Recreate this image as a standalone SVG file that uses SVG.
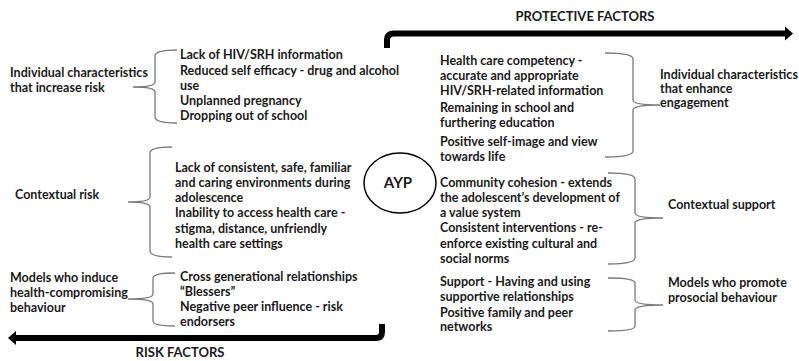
<svg xmlns="http://www.w3.org/2000/svg" width="799" height="361" viewBox="0 0 799 361">
<style>
text{font-family:Lato,"Liberation Sans",sans-serif;font-weight:bold;font-size:12.5px;fill:#1a1a1a}
.title{font-size:13px;text-anchor:middle}
.brace{fill:none;stroke:#7a7a7a;stroke-width:1.3}
.arrow{fill:none;stroke:#000;stroke-width:6;stroke-linejoin:round}
</style>
<rect width="799" height="361" fill="#fff"/>
<g id="connectors">
<path class="arrow" d="M387 48 L387 40 Q387 33.5 394 33.5 L786 33.5"/>
<polygon points="785,26.5 793,33.5 785,40.5" fill="#000"/>
<path class="arrow" d="M382 324 L382 332 Q382 338 376 338 L15 338"/>
<polygon points="16,331 8,338 16,345" fill="#000"/>
<path class="brace" d="M177 50 Q155 50 155 56 L155 82 Q155 87 133 87 Q155 87 155 92 L155 117 Q155 123 177 123"/>
<path class="brace" d="M172 147 Q150 147 150 153 L150 197 Q150 202 128 202 Q150 202 150 207 L150 251 Q150 257 172 257"/>
<path class="brace" d="M175 273 Q153 273 153 278 L153 294 Q153 299 128 299 Q153 299 153 304 L153 321 Q153 326 175 326"/>
<path class="brace" d="M605 53 Q633 53 633 59 L633 100 Q633 105 660 105 Q633 105 633 110 L633 151 Q633 157 605 157"/>
<path class="brace" d="M608 173 Q635 173 635 179 L635 213 Q635 218 663 218 Q635 218 635 223 L635 258 Q635 264 608 264"/>
<path class="brace" d="M608 278 Q635 278 635 283 L635 300 Q635 305 663 305 Q635 305 635 310 L635 326 Q635 331 608 331"/>
</g>
<g id="title-protective"><text class="title" x="585" y="21">PROTECTIVE FACTORS</text></g>
<g id="title-risk"><text class="title" x="180" y="357">RISK FACTORS</text></g>
<g id="ayp">
<ellipse cx="400" cy="183" rx="36" ry="30" fill="none" stroke="#000" stroke-width="1.5"/>
<text x="398" y="188" text-anchor="middle" style="font-size:15px">AYP</text>
</g>
<g id="label-individual-risk">
<text x="10" y="77">Individual characteristics</text>
<text x="10" y="92">that increase risk</text>
</g>
<g id="list-individual-risk">
<text x="180" y="59">Lack of HIV/SRH information</text>
<text x="180" y="75">Reduced self efficacy - drug and alcohol</text>
<text x="180" y="90">use</text>
<text x="180" y="105">Unplanned pregnancy</text>
<text x="180" y="120">Dropping out of school</text>
</g>
<g id="label-contextual-risk"><text x="15" y="199">Contextual risk</text></g>
<g id="list-contextual-risk">
<text x="175" y="172">Lack of consistent, safe, familiar</text>
<text x="175" y="187">and caring environments during</text>
<text x="175" y="202">adolescence</text>
<text x="175" y="217">Inability to access health care  -</text>
<text x="175" y="233">stigma, distance, unfriendly</text>
<text x="175" y="248">health care settings</text>
</g>
<g id="label-models-risk">
<text x="10" y="282">Models who induce</text>
<text x="10" y="297">health-compromising</text>
<text x="10" y="312">behaviour</text>
</g>
<g id="list-models-risk">
<text x="180" y="281">Cross generational relationships</text>
<text x="180" y="296">“Blessers”</text>
<text x="180" y="311">Negative peer influence - risk</text>
<text x="180" y="326">endorsers</text>
</g>
<g id="list-individual-protective">
<text x="440" y="65">Health care competency -</text>
<text x="440" y="80">accurate and appropriate</text>
<text x="440" y="95">HIV/SRH-related information</text>
<text x="440" y="112">Remaining in school and</text>
<text x="440" y="127">furthering education</text>
<text x="440" y="146">Positive self-image and view</text>
<text x="440" y="161">towards life</text>
</g>
<g id="label-individual-protective">
<text x="660" y="79">Individual characteristics</text>
<text x="660" y="93">that enhance</text>
<text x="660" y="107">engagement</text>
</g>
<g id="list-contextual-support">
<text x="440" y="187">Community cohesion - extends</text>
<text x="440" y="202">the adolescent’s development of</text>
<text x="440" y="217">a value system</text>
<text x="440" y="232">Consistent interventions - re-</text>
<text x="440" y="248">enforce existing cultural and</text>
<text x="440" y="263">social norms</text>
</g>
<g id="label-contextual-support"><text x="668" y="209">Contextual support</text></g>
<g id="list-models-protective">
<text x="440" y="286">Support - Having and using</text>
<text x="440" y="301">supportive relationships</text>
<text x="440" y="317">Positive family and peer</text>
<text x="440" y="331">networks</text>
</g>
<g id="label-models-protective">
<text x="668" y="287">Models who promote</text>
<text x="668" y="302">prosocial  behaviour</text>
</g>
</svg>
